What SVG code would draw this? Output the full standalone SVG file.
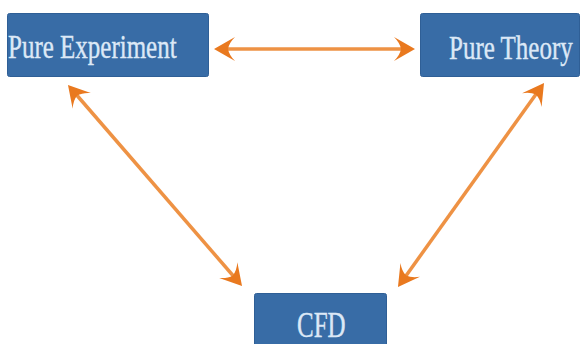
<svg xmlns="http://www.w3.org/2000/svg" width="580" height="344" viewBox="0 0 580 344">
<style>
.box{fill:#386CA6;stroke:#2F5F96;stroke-width:1}
.lbl{font-family:"Liberation Serif","DejaVu Serif",serif;fill:#DCE8F6;font-size:25px;stroke:#DCE8F6;stroke-width:0.3}
.conn{stroke:#EE9244;stroke-width:3.5;fill:none}
</style>
<defs>
<marker id="ah" viewBox="-26 -15 34 30" markerWidth="34" markerHeight="30" refX="0" refY="0" orient="auto-start-reverse" markerUnits="userSpaceOnUse" overflow="visible">
<path d="M4,0 L-17,-12 Q-11,-6 -10,0 Q-11,6 -17,12 Z" fill="#E9791F"/>
</marker>
</defs>
<rect width="580" height="344" fill="#FFFFFF"/>
<g id="connectors">
<line class="conn" x1="218" y1="49" x2="411" y2="49" marker-start="url(#ah)" marker-end="url(#ah)"/>
<line class="conn" x1="70.6" y1="88" x2="239.4" y2="283" marker-start="url(#ah)" marker-end="url(#ah)"/>
<line class="conn" x1="541.7" y1="86.3" x2="400.3" y2="283.7" marker-start="url(#ah)" marker-end="url(#ah)"/>
</g>
<g id="node-pure-experiment">
<rect class="box" x="7.5" y="13.5" width="201" height="63" rx="2"/>
<text class="lbl" transform="translate(8,58) scale(1,1.33)">Pure Experiment</text>
</g>
<g id="node-pure-theory">
<rect class="box" x="420.5" y="13.5" width="159" height="63" rx="2"/>
<text class="lbl" transform="translate(449,59) scale(1,1.33)">Pure Theory</text>
</g>
<g id="node-cfd">
<rect class="box" x="254.5" y="293.5" width="132" height="60" rx="2"/>
<text class="lbl" transform="translate(297,337) scale(1,1.42)" font-size="21">CFD</text>
</g>
</svg>
